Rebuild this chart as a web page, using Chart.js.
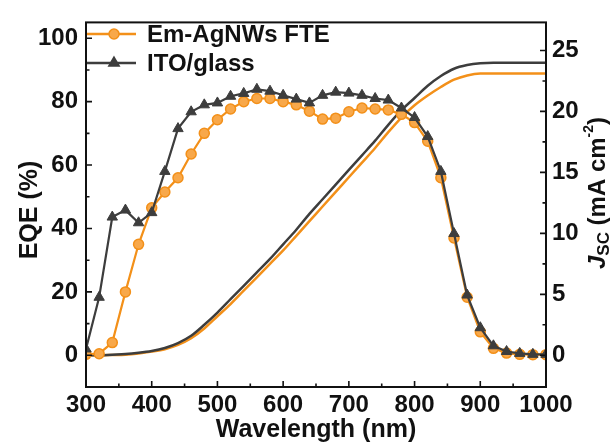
<!DOCTYPE html>
<html>
<head>
<meta charset="utf-8">
<script src="https://cdn.jsdelivr.net/npm/chart.js@4"></script>
<style>
  html, body { margin: 0; padding: 0; background: #fff; }
  #wrap { width: 610px; height: 444px; position: relative; }
</style>
</head>
<body>
<div id="wrap"><canvas id="eqe-chart"></canvas></div>
<script>
// wavelength grid (nm), one point every 20 nm
const wavelengths = [300, 320, 340, 360, 380, 400, 420, 440, 460, 480, 500, 520, 540, 560, 580, 600, 620, 640,
  660, 680, 700, 720, 740, 760, 780, 800, 820, 840, 860, 880, 900, 920, 940, 960, 980, 1000];

// EQE (%)
const eqeAgNW = [0.3, 0.5, 4, 20, 35, 46.5, 51.5, 56, 63.5, 70, 74.3, 77.7, 80, 81, 81, 80, 79, 77,
  74.5, 74.8, 76.8, 78, 77.7, 77.4, 76, 73.4, 67.5, 56, 37, 18.3, 7.4, 2.2, 0.7, 0.3, 0.2, 0.2];
const eqeITO = [2, 18.3, 43.6, 45.8, 41.8, 45, 58, 71.5, 76.8, 79, 79.6, 81.7, 82.6, 83.9, 83.3, 82, 80.8, 79.6,
  82, 83, 82.7, 82, 81, 80.5, 78, 75, 69, 58, 38.4, 19, 8.7, 3, 1.2, 0.6, 0.3, 0.3];

// integrated Jsc (mA cm-2)
const jscAgNW = [0, 0, 0.02, 0.05, 0.15, 0.3, 0.5, 0.85, 1.4, 2.2, 3.2, 4.2, 5.3, 6.4, 7.5, 8.6, 9.8, 11.0,
  12.2, 13.4, 14.6, 15.8, 17.0, 18.3, 19.5, 20.5, 21.3, 22.0, 22.6, 22.95, 23.1, 23.1, 23.1, 23.1, 23.1, 23.1];
const jscITO = [0, 0, 0.05, 0.1, 0.2, 0.35, 0.6, 1.0, 1.6, 2.5, 3.5, 4.6, 5.7, 6.8, 7.9, 9.1, 10.3, 11.6,
  12.8, 14.0, 15.2, 16.4, 17.6, 18.9, 20.1, 21.1, 22.1, 22.9, 23.5, 23.8, 23.95, 24.0, 24.0, 24.0, 24.0, 24.0];

// tick labels
const xTicks = [300, 400, 500, 600, 700, 800, 900, 1000];
const xMinor = [350, 450, 550, 650, 750, 850, 950];
const eqeTicks = [0, 20, 40, 60, 80, 100];
const eqeMinor = [10, 30, 50, 70, 90];
const jscTicks = [0, 5, 10, 15, 20, 25];
const jscMinor = [2.5, 7.5, 12.5, 17.5, 22.5];

const seriesNames = ['Em-AgNWs FTE', 'ITO/glass'];

const ORANGE = '#F39019';
const DARK = '#3d3d3d';
const FONT = '"Liberation Sans", Arial, sans-serif';

const toPoints = (ys) => wavelengths.map((x, i) => ({ x: x, y: ys[i] }));

// frame, inward ticks, legend and axis titles
const decorations = {
  id: 'decorations',
  afterDraw(chart) {
    const ctx = chart.ctx;
    const a = chart.chartArea;
    const sx = chart.scales.x, sy = chart.scales.y, sy2 = chart.scales.y2;
    ctx.save();
    ctx.strokeStyle = '#111';
    ctx.lineWidth = 2;
    ctx.strokeRect(a.left, a.top, a.right - a.left, a.bottom - a.top);

    ctx.lineWidth = 1.6;
    ctx.beginPath();
    const tick = (vals, len, fn) => vals.forEach(v => fn(v, len));
    const bottomTick = (v, len) => { const p = sx.getPixelForValue(v); ctx.moveTo(p, a.bottom); ctx.lineTo(p, a.bottom - len); };
    const leftTick = (v, len) => { const p = sy.getPixelForValue(v); ctx.moveTo(a.left, p); ctx.lineTo(a.left + len, p); };
    const rightTick = (v, len) => { const p = sy2.getPixelForValue(v); ctx.moveTo(a.right, p); ctx.lineTo(a.right - len, p); };
    tick(xTicks, 6, bottomTick); tick(xMinor, 3.5, bottomTick);
    tick(eqeTicks, 6, leftTick); tick(eqeMinor, 3.5, leftTick);
    tick(jscTicks, 6, rightTick); tick(jscMinor, 3.5, rightTick);
    ctx.stroke();

    // legend
    const legendRows = [
      { label: seriesNames[0], color: ORANGE, style: 'circle', r: 5, y: 34 },
      { label: seriesNames[1], color: DARK, style: 'triangle', r: 6, y: 63 }
    ];
    legendRows.forEach(row => {
      ctx.strokeStyle = row.color;
      ctx.lineWidth = 2.5;
      ctx.beginPath();
      ctx.moveTo(a.left + 1, row.y);
      ctx.lineTo(a.left + 50, row.y);
      ctx.stroke();
      ctx.fillStyle = row.style === 'circle' ? '#F8A84A' : DARK;
      ctx.lineWidth = 1.5;
      Chart.helpers.drawPoint(ctx, { pointStyle: row.style, radius: row.r, borderWidth: 1.5 }, a.left + 28, row.y);
      ctx.fillStyle = '#111';
      ctx.font = 'bold 24px ' + FONT;
      ctx.textBaseline = 'middle';
      ctx.textAlign = 'left';
      ctx.fillText(row.label, a.left + 61, row.y + 1);
    });

    // axis titles
    ctx.fillStyle = '#111';
    ctx.textAlign = 'center';
    ctx.textBaseline = 'middle';
    ctx.font = 'bold 25px ' + FONT;
    ctx.fillText('Wavelength (nm)', (a.left + a.right) / 2, 430);

    ctx.save();
    ctx.translate(30, 210);
    ctx.rotate(-Math.PI / 2);
    ctx.fillText('EQE (%)', 0, 0);
    ctx.restore();

    // right title: J_SC (mA cm^-2)
    const parts = [
      { t: 'J', font: 'italic bold 24px ' + FONT, dy: 0 },
      { t: 'SC', font: 'bold 17px ' + FONT, dy: 6 },
      { t: ' (mA cm', font: 'bold 24px ' + FONT, dy: 0 },
      { t: '-2', font: 'bold 14px ' + FONT, dy: -9 },
      { t: ')', font: 'bold 24px ' + FONT, dy: 0 }
    ];
    let total = 0;
    parts.forEach(p => { ctx.font = p.font; p.w = ctx.measureText(p.t).width; total += p.w; });
    ctx.save();
    ctx.translate(598, 193);
    ctx.rotate(-Math.PI / 2);
    ctx.textAlign = 'left';
    let x = -total / 2;
    parts.forEach(p => { ctx.font = p.font; ctx.fillText(p.t, x, p.dy); x += p.w; });
    ctx.restore();

    ctx.restore();
  }
};

const tickFont = { family: FONT, size: 24, weight: 'bold' };
const plainLabel = v => String(v);

new Chart(document.getElementById('eqe-chart'), {
  type: 'line',
  data: {
    datasets: [
      {
        label: seriesNames[1] + ' EQE',
        data: toPoints(eqeITO),
        yAxisID: 'y',
        borderColor: DARK,
        borderWidth: 2.2,
        pointStyle: 'triangle',
        pointRadius: 6,
        pointBackgroundColor: DARK,
        pointBorderColor: DARK,
        pointBorderWidth: 1,
        tension: 0,
        order: 0
      },
      {
        label: seriesNames[0] + ' EQE',
        data: toPoints(eqeAgNW),
        yAxisID: 'y',
        borderColor: ORANGE,
        borderWidth: 2.2,
        pointStyle: 'circle',
        pointRadius: 5,
        pointBackgroundColor: '#F8A84A',
        pointBorderColor: ORANGE,
        pointBorderWidth: 1.5,
        tension: 0,
        order: 1
      },
      {
        label: seriesNames[1] + ' Jsc',
        data: toPoints(jscITO),
        yAxisID: 'y2',
        borderColor: DARK,
        borderWidth: 2.5,
        pointRadius: 0,
        cubicInterpolationMode: 'monotone',
        order: 2
      },
      {
        label: seriesNames[0] + ' Jsc',
        data: toPoints(jscAgNW),
        yAxisID: 'y2',
        borderColor: ORANGE,
        borderWidth: 2.5,
        pointRadius: 0,
        cubicInterpolationMode: 'monotone',
        order: 3
      }
    ]
  },
  options: {
    responsive: true,
    maintainAspectRatio: false,
    animation: false,
    layout: { padding: { top: 15, left: 0, right: 0, bottom: 0 } },
    plugins: { legend: { display: false }, tooltip: { enabled: false } },
    scales: {
      x: {
        type: 'linear',
        min: 300,
        max: 1000,
        grid: { display: false, drawTicks: false },
        border: { display: false },
        afterBuildTicks: s => { s.ticks = xTicks.map(v => ({ value: v })); },
        afterFit: s => { s.height = 57; },
        ticks: { color: '#111', font: tickFont, padding: 4, maxRotation: 0, autoSkip: false, callback: plainLabel }
      },
      y: {
        position: 'left',
        min: -10,
        max: 105,
        grid: { display: false, drawTicks: false },
        border: { display: false },
        afterBuildTicks: s => { s.ticks = eqeTicks.map(v => ({ value: v })); },
        afterFit: s => { s.width = 86; },
        ticks: { color: '#111', font: tickFont, padding: 8, callback: plainLabel }
      },
      y2: {
        position: 'right',
        min: -2.6,
        max: 27.3,
        grid: { display: false, drawTicks: false },
        border: { display: false },
        afterBuildTicks: s => { s.ticks = jscTicks.map(v => ({ value: v })); },
        afterFit: s => { s.width = 64; },
        ticks: { color: '#111', font: tickFont, padding: 6, callback: plainLabel }
      }
    }
  },
  plugins: [decorations]
});
</script>
</body>
</html>
